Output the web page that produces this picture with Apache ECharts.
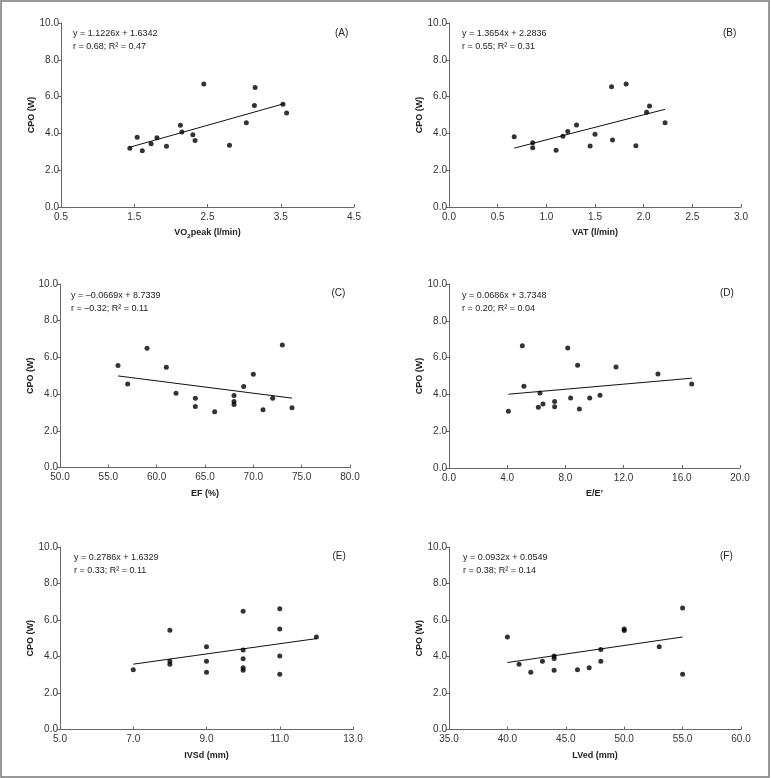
<!DOCTYPE html>
<html>
<head>
<meta charset="utf-8">
<script src="https://cdn.jsdelivr.net/npm/echarts@6/dist/echarts.min.js"></script>
<style>
html,body{margin:0;padding:0;background:#fff;}
#chart{width:771px;height:778px;}
</style>
</head>
<body>
<div id="chart"></div>
<script>
// ---- Data ----
const ptsA = [[1.44,3.19],[1.54,3.79],[1.61,3.06],[1.73,3.44],[1.81,3.77],[1.94,3.30],[2.13,4.44],[2.15,4.08],[2.30,3.93],[2.33,3.62],[2.45,6.68],[2.80,3.35],[3.03,4.58],[3.14,5.51],[3.15,6.50],[3.53,5.58],[3.58,5.11]];
const ptsB = [[0.67,3.82],[0.86,3.49],[0.86,3.22],[1.10,3.09],[1.17,3.84],[1.22,4.11],[1.31,4.45],[1.45,3.31],[1.50,3.96],[1.67,6.53],[1.68,3.64],[1.82,6.69],[1.92,3.33],[2.03,5.15],[2.06,5.49],[2.22,4.58]];
const ptsC = [[56,5.56],[57,4.55],[59,6.50],[61,5.46],[62,4.04],[64,3.77],[64,3.32],[66,3.04],[68,3.92],[68,3.59],[68,3.44],[69,4.41],[70,5.08],[71,3.15],[72,3.77],[73,6.67],[74,3.26]];
const ptsD = [[4.08,3.08],[5.04,6.65],[5.15,4.44],[6.14,3.30],[6.25,4.08],[6.46,3.48],[7.26,3.62],[7.26,3.33],[8.16,6.52],[8.36,3.80],[8.84,5.58],[8.96,3.21],[9.67,3.80],[10.38,3.95],[11.48,5.49],[14.36,5.11],[16.68,4.57]];
const ptsE = [[7,3.28],[8,5.44],[8,3.74],[8,3.58],[9,4.54],[9,3.74],[9,3.14],[10,6.48],[10,4.36],[10,3.87],[10,3.39],[10,3.25],[11,6.61],[11,5.51],[11,4.03],[11,3.03],[12,5.07]];
const ptsF = [[40,5.07],[41,3.58],[42,3.14],[43,3.74],[44,4.03],[44,3.89],[44,3.25],[46,3.28],[47,3.39],[48,4.38],[48,3.74],[50,5.51],[50,5.42],[53,4.54],[55,6.66],[55,3.03]];

const trendA = [[1.44,3.25],[3.55,5.62]];
const trendB = [[0.67,3.20],[2.22,5.31]];
const trendC = [[56,4.99],[74,3.78]];
const trendD = [[4.08,4.01],[16.68,4.88]];
const trendE = [[7,3.58],[12,4.98]];
const trendF = [[40,3.67],[55,5.07]];

const eqTexts = [
  ['y = 1.1226x + 1.6342','r = 0.68; R² = 0.47'],
  ['y = 1.3654x + 2.2836','r = 0.55; R² = 0.31'],
  ['y = \u20130.0669x + 8.7339','r = \u20130.32; R² = 0.11'],
  ['y = 0.0686x + 3.7348','r = 0.20; R² = 0.04'],
  ['y = 0.2786x + 1.6329','r = 0.33; R² = 0.11'],
  ['y = 0.0932x + 0.0549','r = 0.38; R² = 0.14']
];
const panelLabels = ['(A)','(B)','(C)','(D)','(E)','(F)'];
const xNames = ['{n|VO}{s|2}{n|peak (l/min)}','{n|VAT (l/min)}','{n|EF (%)}','{n|E/E\u2019}','{n|IVSd (mm)}','{n|LVed (mm)}'];
const xMin = [0.5, 0, 50, 0, 5, 35];
const xMax = [4.5, 3, 80, 20, 13, 60];
const xStep = [1, 0.5, 5, 4, 2, 5];
const yName = 'CPO (W)';

// ---- Layout ----
const grids = [
  {left:61, top:23, width:293, height:184},
  {left:449, top:23, width:292, height:184},
  {left:60, top:284, width:290, height:183.5},
  {left:449, top:284, width:291, height:184},
  {left:60, top:547, width:293, height:182.5},
  {left:449, top:547, width:292, height:182.5}
];
const eqPos = [[73,27.5],[462,27.5],[71,289.5],[462,289.5],[74,551.5],[463,551.5]];
const labPos = [[335,27],[723,27],[331.5,287],[720,287],[332.5,550],[720,550]];

const FONT = "'Liberation Sans', Arial, sans-serif";
const pts = [ptsA,ptsB,ptsC,ptsD,ptsE,ptsF];
const trends = [trendA,trendB,trendC,trendD,trendE,trendF];

const xAxis = [], yAxis = [], series = [], title = [];
for (let i = 0; i < 6; i++) {
  xAxis.push({
    gridIndex:i, type:'value', min:xMin[i], max:xMax[i], interval:xStep[i],
    splitLine:{show:false},
    axisLine:{show:true, lineStyle:{color:'#666', width:1}},
    axisTick:{show:true, inside:true, length:3, lineStyle:{color:'#666'}},
    axisLabel:{color:'#333', fontSize:10, fontFamily:FONT, margin:5,
      formatter:v=>v.toFixed(1)},
    name:xNames[i], nameLocation:'middle', nameGap:20,
    nameTextStyle:{rich:{
      n:{fontSize:9, fontWeight:'bold', color:'#222', fontFamily:FONT, lineHeight:12},
      s:{fontSize:6, fontWeight:'bold', color:'#222', fontFamily:FONT, lineHeight:12, padding:[6,0,0,0]}
    }}
  });
  yAxis.push({
    gridIndex:i, type:'value', min:0, max:10, interval:2,
    splitLine:{show:false},
    axisLine:{show:true, lineStyle:{color:'#666', width:1}},
    axisTick:{show:true, length:3, lineStyle:{color:'#666'}},
    axisLabel:{color:'#333', fontSize:10, fontFamily:FONT, margin:2,
      formatter:v=>v.toFixed(1)},
    name:yName, nameLocation:'middle', nameGap:24,
    nameTextStyle:{fontSize:9, fontWeight:'bold', color:'#222', fontFamily:FONT}
  });
  series.push({
    type:'scatter', xAxisIndex:i, yAxisIndex:i, data:pts[i],
    symbol:'circle', symbolSize:5, itemStyle:{color:'#000'}, silent:true, z:3
  });
  series.push({
    type:'line', xAxisIndex:i, yAxisIndex:i, data:trends[i],
    showSymbol:false, symbol:'none', lineStyle:{color:'#111', width:1}, silent:true, z:2
  });
  title.push({
    text:eqTexts[i].join('\n'), left:eqPos[i][0], top:eqPos[i][1], padding:0,
    textStyle:{fontSize:9, fontWeight:'normal', color:'#222', fontFamily:FONT, lineHeight:13}
  });
  title.push({
    text:panelLabels[i], left:labPos[i][0], top:labPos[i][1], padding:0,
    textStyle:{fontSize:10, fontWeight:'normal', color:'#222', fontFamily:FONT, lineHeight:12}
  });
}

const chart = echarts.init(document.getElementById('chart'), null, {renderer:'canvas'});
chart.setOption({
  backgroundColor:'#fff',
  animation:false,
  title:title,
  grid:grids,
  xAxis:xAxis,
  yAxis:yAxis,
  series:series,
  graphic:[{
    type:'rect', shape:{x:1, y:1, width:768, height:776},
    style:{fill:'none', stroke:'#777', lineWidth:1.5}, silent:true
  }]
});
</script>
</body>
</html>
